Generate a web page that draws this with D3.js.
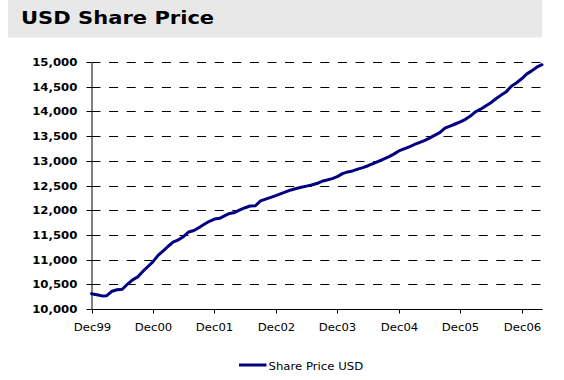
<!DOCTYPE html>
<html>
<head>
<meta charset="utf-8">
<script src="https://cdn.jsdelivr.net/npm/d3@7"></script>
<style>
  html, body { margin: 0; padding: 0; background: #ffffff; }
  svg { display: block; }
  text { font-family: "DejaVu Sans", Verdana, sans-serif; }
</style>
</head>
<body>
<svg id="chart" width="564" height="380"></svg>
<script>
const title = "USD Share Price";
const seriesName = "Share Price USD";
const firstMonth = "1999-12";
const lastMonth = "2007-04";
const xTickLabels = ["Dec99", "Dec00", "Dec01", "Dec02", "Dec03", "Dec04", "Dec05", "Dec06"];
const yTicks = [10000, 10500, 11000, 11500, 12000, 12500, 13000, 13500, 14000, 14500, 15000];
const sharePrice = [
  10310, 10290, 10265, 10270, 10360, 10390, 10400, 10500, 10590, 10650, 10760, 10860,
  10960, 11090, 11180, 11270, 11360, 11400, 11470, 11560, 11590, 11650, 11715, 11775,
  11820, 11835, 11890, 11935, 11955, 12005, 12050, 12085, 12090, 12190, 12225, 12260,
  12295, 12335, 12375, 12410, 12440, 12465, 12487, 12510, 12540, 12585, 12610, 12640,
  12680, 12740, 12775, 12795, 12830, 12862, 12900, 12945, 12990, 13034, 13080, 13135,
  13200, 13240, 13280, 13325, 13370, 13410, 13460, 13515, 13570, 13660, 13700, 13745,
  13790, 13840, 13910, 13990, 14045, 14110, 14175, 14255, 14330, 14400, 14510, 14580,
  14660, 14760, 14825, 14895, 14945
];

const SX = 1.17; // horizontal text stretch seen in the reference
const parse = d3.timeParse("%Y-%m");
const months = d3.timeMonth.range(parse(firstMonth), d3.timeMonth.offset(parse(lastMonth), 1));
const data = months.map((d, i) => ({ date: d, value: sharePrice[i] }));

const svg = d3.select("#chart");

// title band
svg.append("rect").attr("x", 8).attr("y", 0).attr("width", 534).attr("height", 37.5).attr("fill", "#e8e8e8");
svg.append("text")
  .attr("transform", `translate(21,23.5) scale(${SX},1)`)
  .attr("font-size", 18).attr("font-weight", "bold").attr("fill", "#000")
  .text(title);

const x = d3.scaleTime().domain([months[0], months[months.length - 1]]).range([91.5, 542]);
const y = d3.scaleLinear().domain([10000, 15000]).range([309, 62]);
const xEnd = 542.7;

// gridlines
svg.append("g").selectAll("line").data(yTicks.slice(1)).join("line")
  .attr("x1", 91.5).attr("x2", xEnd)
  .attr("y1", d => Math.round(y(d)) + 0.5).attr("y2", d => Math.round(y(d)) + 0.5)
  .attr("stroke", "#000").attr("stroke-width", 1).attr("stroke-dasharray", "9,8.6");

// y axis
const yAxis = svg.append("g").attr("transform", "translate(91.5,0.5)")
  .call(d3.axisLeft(y).tickValues(yTicks).tickFormat(d3.format(",")).tickSize(5).tickSizeOuter(0));
yAxis.select(".domain").attr("stroke", "#000");
yAxis.selectAll(".tick line").attr("stroke", "#000");
yAxis.selectAll(".tick").attr("transform", d => `translate(0,${Math.round(y(d))})`);
yAxis.selectAll("text")
  .attr("x", -14.2 / SX).attr("dy", "0.35em")
  .attr("transform", `scale(${SX},1)`)
  .attr("font-size", 10).attr("font-weight", "bold").attr("fill", "#000")
  .style("font-family", '"DejaVu Sans", Verdana, sans-serif');

// x axis
const tickDates = xTickLabels.map(s => d3.timeParse("%b%y")(s));
const xAxis = svg.append("g").attr("transform", `translate(0,${Math.round(y(10000)) + 0.5})`)
  .call(d3.axisBottom(x).tickValues(tickDates).tickFormat((d, i) => xTickLabels[i]).tickSize(4).tickSizeOuter(0));
xAxis.select(".domain").attr("d", `M91.5,0H${xEnd}`).attr("stroke", "#000");
xAxis.selectAll(".tick line").attr("stroke", "#000");
xAxis.selectAll(".tick").attr("transform", d => `translate(${Math.round(x(d)) + 0.5},0)`);
xAxis.selectAll("text")
  .attr("y", 21.5).attr("dy", 0)
  .attr("transform", `scale(${SX},1)`)
  .attr("font-size", 10).attr("fill", "#000")
  .style("font-family", '"DejaVu Sans", Verdana, sans-serif');

// line
svg.append("path").datum(data)
  .attr("fill", "none").attr("stroke", "#000080").attr("stroke-width", 3)
  .attr("stroke-linejoin", "round").attr("stroke-linecap", "round")
  .attr("d", d3.line().x(d => x(d.date)).y(d => y(d.value)));

// legend
svg.append("line").attr("x1", 239).attr("x2", 266.5).attr("y1", 365).attr("y2", 365)
  .attr("stroke", "#000080").attr("stroke-width", 3);
svg.append("text")
  .attr("transform", `translate(268.5,369.5) scale(${SX},1)`)
  .attr("font-size", 10).attr("fill", "#000")
  .text(seriesName);
</script>
</body>
</html>
